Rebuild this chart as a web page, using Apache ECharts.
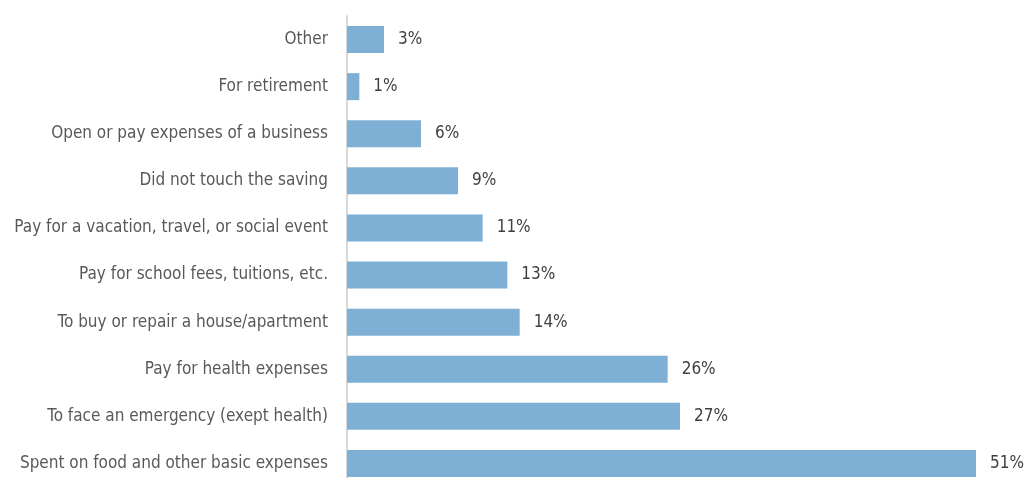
<!DOCTYPE html>
<html><head><meta charset="utf-8">
<script src="https://cdn.jsdelivr.net/npm/echarts@6/dist/echarts.min.js"></script>
<style>html,body{margin:0;padding:0;background:#fff;overflow:hidden}#c{width:1028px;height:492px}</style>
</head><body><div id="c"></div>
<script>
const categories = [
  "Spent on food and other basic expenses",
  "To face an emergency (exept health)",
  "Pay for health expenses",
  "To buy or repair a house/apartment",
  "Pay for school fees, tuitions, etc.",
  "Pay for a vacation, travel, or social event",
  "Did not touch the saving",
  "Open or pay expenses of a business",
  "For retirement",
  "Other"
];
const values = [51, 27, 26, 14, 13, 11, 9, 6, 1, 3];
const FONT = "'Liberation Sans Narrow','DejaVu Sans Condensed','DejaVu Sans',sans-serif";
const chart = echarts.init(document.getElementById('c'), null, {renderer: 'canvas'});
chart.setOption({
  animation: false,
  grid: {left: 347, top: 16, width: 629, height: 471, containLabel: false},
  xAxis: {type: 'value', min: 0, max: 51, show: false},
  yAxis: {
    type: 'category', data: categories,
    axisLine: {show: true, lineStyle: {color: '#d9d9d9', width: 2}},
    axisTick: {show: false},
    axisLabel: {color: '#595959', fontFamily: FONT, fontSize: 17, margin: 19}
  },
  series: [{
    type: 'bar', data: values, barWidth: 27,
    itemStyle: {color: '#7eb0d5'},
    label: {show: true, position: 'right', distance: 14, formatter: '{c}%', color: '#404040', fontFamily: FONT, fontSize: 17}
  }]
});
</script></body></html>
